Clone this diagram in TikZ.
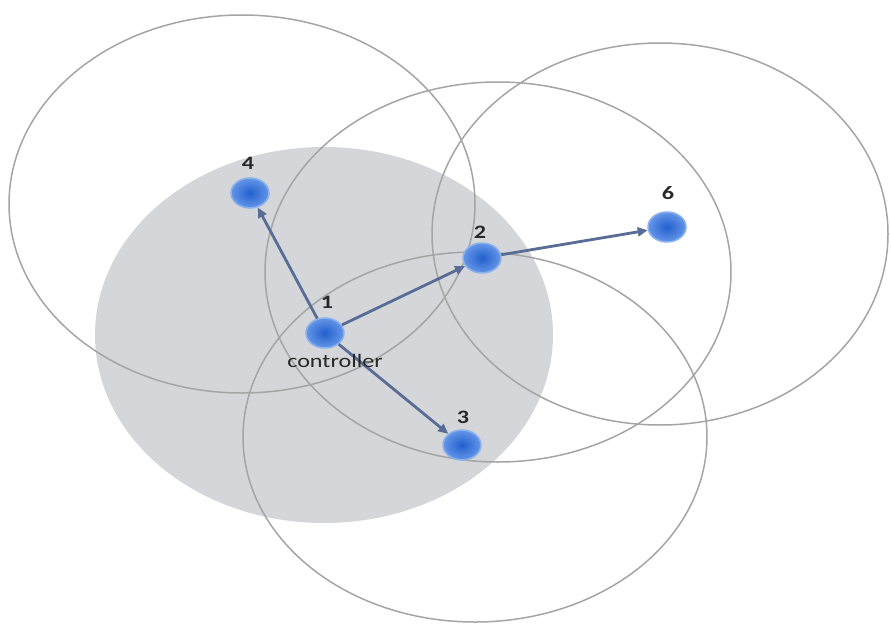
\documentclass[tikz,border=0pt]{standalone}
\usepackage{fontspec}
\setmainfont{Carlito}
\usetikzlibrary{shapes.geometric,arrows.meta}
\definecolor{rangefill}{RGB}{213,214,217}
\definecolor{rangeline}{RGB}{165,165,165}
\definecolor{linkcol}{RGB}{88,108,150}
\definecolor{dotin}{RGB}{35,95,205}
\definecolor{dotout}{RGB}{100,150,232}
\definecolor{dotrim}{RGB}{140,178,236}
\definecolor{txt}{RGB}{40,40,40}
\newcommand{\sx}[1]{\scalebox{1.27}[1]{#1}}
\tikzset{
  rangering/.style={draw=rangeline, line width=1.5pt},
  dot/.style={ellipse, minimum width=38pt, minimum height=30pt, inner sep=0pt,
    shading=radial, inner color=dotin, outer color=dotout, draw=dotrim, line width=1.5pt},
  lbl/.style={text=txt, font=\fontsize{19}{19}\selectfont, inner sep=0pt},
  link/.style={draw=linkcol, line width=2.8pt, -{Triangle[length=10pt,width=9pt]}}
}
\begin{document}
\begin{tikzpicture}[x=1pt,y=-1pt]
\useasboundingbox (0,0) rectangle (891,626);
\fill[white] (0,0) rectangle (891,626);
% range of controller
\fill[rangefill] (324,335) ellipse [x radius=229pt, y radius=188pt];
% ranges of other nodes
\draw[rangering] (242,204) ellipse [x radius=233pt, y radius=189pt];
\draw[rangering] (498,272) ellipse [x radius=233pt, y radius=190pt];
\draw[rangering] (660,234) ellipse [x radius=228pt, y radius=191pt];
\draw[rangering] (475,437) ellipse [x radius=232pt, y radius=185pt];
% nodes
\node[dot] (n1) at (325,333) {};
\node[dot] (n2) at (482,258) {};
\node[dot] (n3) at (462,445) {};
\node[dot] (n4) at (250,193) {};
\node[dot] (n6) at (667,227) {};
% links
\draw[link] (n1) -- (n4);
\draw[link] (n1) -- (n2);
\draw[link] (n1) -- (n3);
\draw[link] (n2) -- (n6);
% labels
\node[lbl] (l1) at (327,302) {\sx{\textbf{1}}};
\node[lbl] (l2) at (480,232) {\sx{\textbf{2}}};
\node[lbl] (l3) at (463,417) {\sx{\textbf{3}}};
\node[lbl] (l4) at (248,163) {\sx{\textbf{4}}};
\node[lbl] (l6) at (668,193) {\sx{\textbf{6}}};
\node[lbl] (lc) at (335,361) {\sx{controller}};
\end{tikzpicture}
\end{document}
